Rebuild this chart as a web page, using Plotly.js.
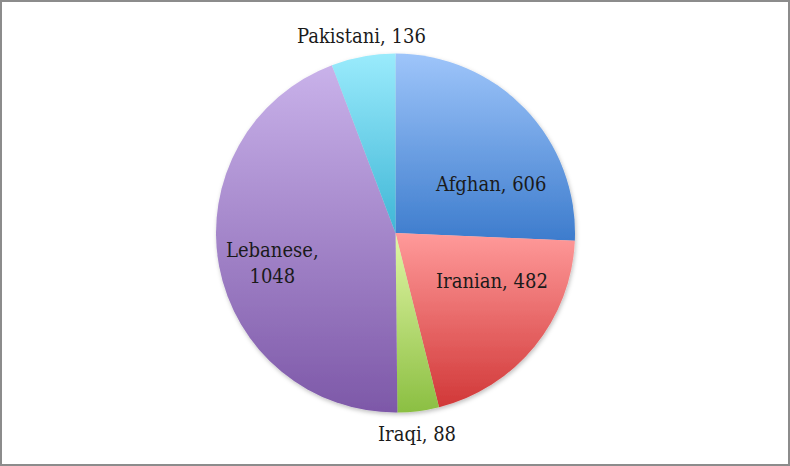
<!DOCTYPE html>
<html>
<head>
<meta charset="utf-8">
<script src="https://cdn.plot.ly/plotly-3.0.1.min.js"></script>
<style>
  html, body { margin: 0; padding: 0; background: #fff; }
  #wrap { position: relative; width: 790px; height: 466px; }
  #chart { width: 790px; height: 466px; }
  #frame { position: absolute; left: 0; top: 0; width: 790px; height: 466px; box-sizing: border-box;
           border: 2px solid #8c8c8c; pointer-events: none; }
</style>
</head>
<body>
<div id="wrap"><div id="chart"></div><div id="frame"></div></div>
<script>
const categories = ['Afghan', 'Iranian', 'Iraqi', 'Lebanese', 'Pakistani'];
const values = [606, 482, 88, 1048, 136];
const colorsTop = ['#9ec5fa', '#ff9a9a', '#e2f6a6', '#c9b2ea', '#9aebfc'];
const colorsBottom = ['#3d7ccd', '#d13838', '#8bbf42', '#7d58a8', '#3fb6d6'];
const colorsMid = ['#6d9fe3', '#ea6b6b', '#b6dc74', '#a385c9', '#6dd1e9'];
const labelBreak = ['', '', '', '<br>', ''];

const W = 790, H = 466, cx = 395.5, cy = 233, r = 179.5;
// label anchor positions (pixels) as placed in the reference layout
const labelPos = [[491, 184], [492, 281], [417, 434], [272, 263], [361, 36]];
const FONT = { family: 'DejaVu Serif Condensed, DejaVu Serif, serif', size: 20, color: '#1a1a1a' };

const trace = {
  type: 'pie',
  labels: categories,
  values: values,
  textinfo: 'none',
  sort: false,
  direction: 'clockwise',
  rotation: 0,
  marker: { colors: colorsMid, line: { width: 0 } },
  hoverinfo: 'none',
  domain: { x: [(cx - r) / W, (cx + r) / W], y: [(H - cy - r) / H, (H - cy + r) / H] },
  showlegend: false,
  automargin: false
};

const annotations = categories.map(function (c, i) {
  return {
    xref: 'paper', yref: 'paper',
    x: labelPos[i][0] / W, y: 1 - labelPos[i][1] / H,
    xanchor: 'center', yanchor: 'middle', align: 'center',
    text: c + ',' + (labelBreak[i] || ' ') + values[i],
    showarrow: false,
    font: FONT
  };
});

const layout = {
  width: W, height: H,
  margin: { l: 0, r: 0, t: 0, b: 0 },
  paper_bgcolor: '#ffffff',
  showlegend: false,
  annotations: annotations
};

Plotly.newPlot('chart', [trace], layout, { displayModeBar: false, staticPlot: true }).then(function (gd) {
  const svg = gd.querySelector('svg.main-svg');
  const ns = 'http://www.w3.org/2000/svg';
  let defs = svg.querySelector('defs');
  if (!defs) { defs = document.createElementNS(ns, 'defs'); svg.insertBefore(defs, svg.firstChild); }
  colorsTop.forEach(function (c, i) {
    const g = document.createElementNS(ns, 'linearGradient');
    g.setAttribute('id', 'slgrad' + i);
    g.setAttribute('x1', '0'); g.setAttribute('y1', '0');
    g.setAttribute('x2', '0'); g.setAttribute('y2', '1');
    const s1 = document.createElementNS(ns, 'stop');
    s1.setAttribute('offset', '0'); s1.setAttribute('stop-color', c);
    const s2 = document.createElementNS(ns, 'stop');
    s2.setAttribute('offset', '1'); s2.setAttribute('stop-color', colorsBottom[i]);
    g.appendChild(s1); g.appendChild(s2);
    defs.appendChild(g);
  });
  const f = document.createElementNS(ns, 'filter');
  f.setAttribute('id', 'pieshadow');
  f.setAttribute('x', '-10%'); f.setAttribute('y', '-10%');
  f.setAttribute('width', '120%'); f.setAttribute('height', '120%');
  const ds = document.createElementNS(ns, 'feDropShadow');
  ds.setAttribute('dx', '1'); ds.setAttribute('dy', '2');
  ds.setAttribute('stdDeviation', '2');
  ds.setAttribute('flood-color', '#000'); ds.setAttribute('flood-opacity', '0.25');
  f.appendChild(ds);
  defs.appendChild(f);
  const slices = gd.querySelectorAll('g.slice');
  slices.forEach(function (s, i) {
    const p = s.querySelector('path.surface');
    if (p) { p.style.fill = 'url(#slgrad' + i + ')'; p.style.fillOpacity = 1; }
  });
  const tr = gd.querySelector('g.trace');
  if (tr) tr.setAttribute('filter', 'url(#pieshadow)');
});
</script>
</body>
</html>
